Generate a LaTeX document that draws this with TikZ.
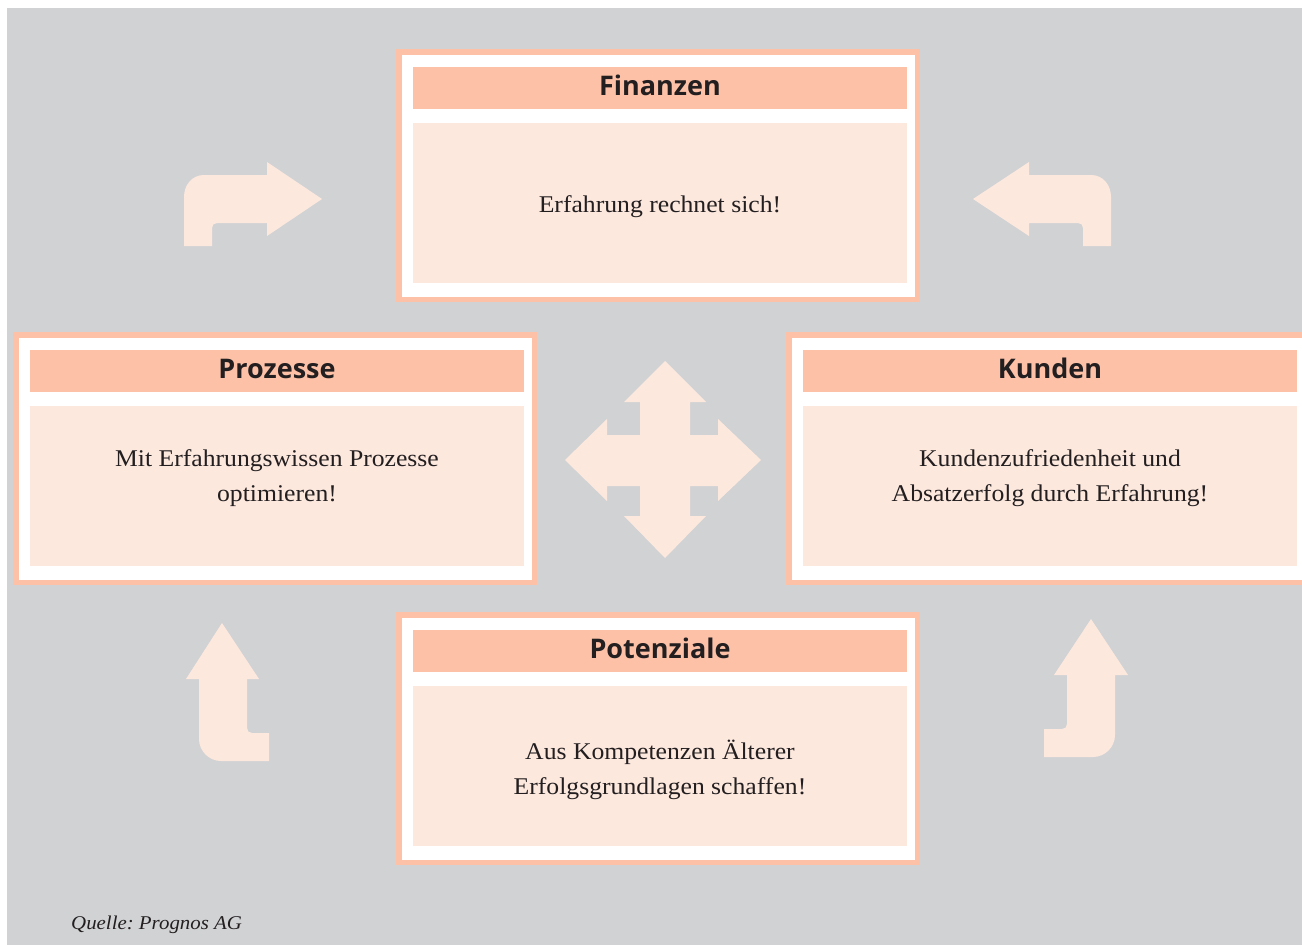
\documentclass[tikz,border=0pt]{standalone}
\usepackage{fontspec}
\setmainfont{Liberation Serif}[FakeStretch=1.07]
\newfontfamily\headfont{Open Sans}[BoldFont={* Bold}]
\frenchspacing
\definecolor{bggray}{HTML}{D1D2D4}
\definecolor{peach}{HTML}{FCC1A7}
\definecolor{peachlight}{HTML}{FDE8DE}
\definecolor{ink}{HTML}{231F20}

% One panel: frame, title band, text field, title
% #1 name, #2/#3 top-left corner of the title band, #4 title
\newcommand\panelbox[4]{%
  \node[frame, anchor=north west] (#1) at (#2-14.25, #3-15.25) {};
  \node[band, anchor=north west] (#1-head) at (#2, #3) {};
  \node[field, anchor=north west] (#1-body) at (#2, #3+56) {};
  \node[titletext] (#1-title) at (#2+247, #3+28) {#4};
}

\begin{document}
\begin{tikzpicture}[x=1pt, y=-1pt,
  frame/.style={draw=peach, line width=5.5pt, fill=white, inner sep=0pt,
    outer sep=0pt, minimum width=518.5pt, minimum height=247.5pt},
  band/.style={fill=peach, inner sep=0pt, outer sep=0pt,
    minimum width=494pt, minimum height=42pt},
  field/.style={fill=peachlight, inner sep=0pt, outer sep=0pt,
    minimum width=494pt, minimum height=160pt},
  titletext/.style={anchor=base, inner sep=0pt, text=ink,
    font=\headfont\bfseries\fontsize{27}{32}\selectfont},
  bodytext/.style={anchor=base, inner sep=0pt, text=ink,
    font=\fontsize{24}{30}\selectfont},
  flow/.style={fill=peachlight}]
\useasboundingbox (0,0) rectangle (1302,945);
\clip (0,0) rectangle (1302,945);
\fill[white] (0,0) rectangle (1302,945);
\fill[bggray] (7,8) rectangle (1302,945);

% curved arrows around the cycle
\fill[flow] (184,246) -- (184,197) .. controls (184,185) and (192,175) .. (204,175)
  -- (267,175) -- (267,162) -- (322,199) -- (267,236) -- (267,223) -- (217,223)
  .. controls (214,223) and (212,225) .. (212,228) -- (212,246) -- cycle;
\fill[flow] (1111,246) -- (1111,197) .. controls (1111,185) and (1103,175) .. (1091,175)
  -- (1029,175) -- (1029,162) -- (973,199) -- (1029,236) -- (1029,223) -- (1078,223)
  .. controls (1081,223) and (1083,225) .. (1083,228) -- (1083,246) -- cycle;
\fill[flow] (222,623) -- (259,679) -- (247,679) -- (247,728)
  .. controls (247,731) and (249,733) .. (252,733) -- (269,733) -- (269,761)
  -- (221,761) .. controls (209,761) and (199,751) .. (199,739) -- (199,679)
  -- (186,679) -- cycle;
\fill[flow] (1091,619) -- (1128,675) -- (1115,675) -- (1115,735)
  .. controls (1115,747) and (1105,757) .. (1093,757) -- (1044,757) -- (1044,729)
  -- (1062,729) .. controls (1065,729) and (1067,727) .. (1067,724) -- (1067,675)
  -- (1054,675) -- cycle;

% four-way arrow in the middle
\fill[flow] (665,361) -- (706,402) -- (690,402) -- (690,435) -- (718,435) -- (718,419)
  -- (761,460) -- (718,501) -- (718,486) -- (690,486) -- (690,516) -- (706,516)
  -- (665,558) -- (624,516) -- (640,516) -- (640,486) -- (607,486) -- (607,501)
  -- (565,460) -- (607,419) -- (607,435) -- (640,435) -- (640,402) -- (624,402) -- cycle;

% panels
\panelbox{fin}{413}{67}{Finanzen}
\panelbox{proz}{30}{350}{Prozesse}
\panelbox{kund}{803}{350}{Kunden}
\panelbox{pot}{413}{630}{Potenziale}

\node[bodytext] (fin-l1) at (660,212) {Erfahrung rechnet sich!};
\node[bodytext] (proz-l1) at (277,466) {Mit Erfahrungswissen Prozesse};
\node[bodytext] (proz-l2) at (277,501) {optimieren!};
\node[bodytext] (kund-l1) at (1050,466) {Kundenzufriedenheit und};
\node[bodytext] (kund-l2) at (1050,501) {Absatzerfolg durch Erfahrung!};
\node[bodytext] (pot-l1) at (660,759) {Aus Kompetenzen Älterer};
\node[bodytext] (pot-l2) at (660,794) {Erfolgsgrundlagen schaffen!};

\node[anchor=base west, inner sep=0pt, text=ink,
  font=\itshape\fontsize{19.5}{24}\selectfont] (quelle) at (71,929) {Quelle: Prognos AG};
\end{tikzpicture}
\end{document}
